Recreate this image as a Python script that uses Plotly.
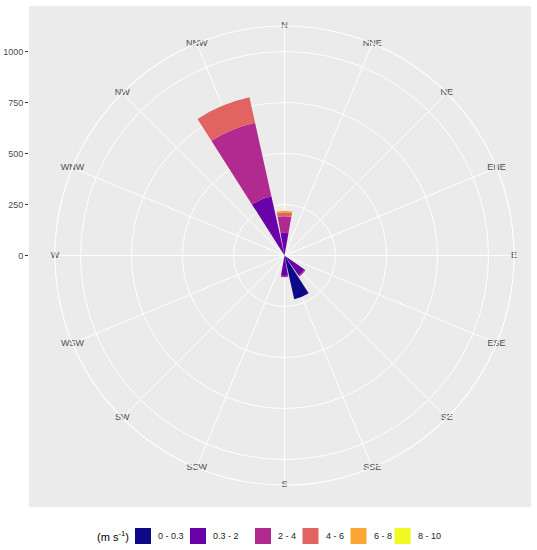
import plotly.graph_objects as go

# ---- data ----
directions = ["N", "NNE", "NE", "ENE", "E", "ESE", "SE", "SSE",
              "S", "SSW", "SW", "WSW", "W", "WNW", "NW", "NNW"]
dir_angles = [i * 22.5 for i in range(16)]
speed_bins = ["0 - 0.3", "0.3 - 2", "2 - 4", "4 - 6", "6 - 8", "8 - 10"]
bin_colors = ["#0D0887", "#6A00A8", "#B12A90", "#E16462", "#FCA636", "#F0F921"]

#            N    NNE NE ENE E ESE SE   SSE  S    SSW SW WSW W WNW NW NNW
v_0_03   = [0,   0,  0, 0,  0, 0,  0,   220, 0,   0,  0, 0,  0, 0,  0, 0]
v_03_2   = [111, 0,  0, 0,  0, 0,  120, 0,   100, 0,  0, 0,  0, 0,  0, 297]
v_2_4    = [81,  0,  0, 0,  0, 0,  6,   0,   6,   0,  0, 0,  0, 0,  0, 370]
v_4_6    = [20,  0,  0, 0,  0, 0,  0,   0,   0,   0,  0, 0,  0, 0,  0, 127]
v_6_8    = [7,   0,  0, 0,  0, 0,  0,   0,   0,   0,  0, 0,  0, 0,  0, 0]
v_8_10   = [0,   0,  0, 0,  0, 0,  0,   0,   0,   0,  0, 0,  0, 0,  0, 0]
series = [v_0_03, v_03_2, v_2_4, v_4_6, v_6_8, v_8_10]

r_ticks = [0, 250, 500, 750, 1000]
r_max = 1125  # outer ring (ggplot's 0.45 vs 0.40 of data range)
legend_title = "(m s<sup>-1</sup>)"

W, H = 537, 550
TXT = "#4D4D4D"
FONT = "Liberation Sans, Arial, sans-serif"

px = lambda x: x / W
py = lambda y: 1 - y / H

fig = go.Figure()
for name, vals, col in zip(speed_bins, series, bin_colors):
    fig.add_trace(go.Barpolar(
        r=vals, theta=dir_angles, name=name, width=20,
        marker=dict(color=col, line=dict(width=0)), showlegend=False,
    ))

# direction labels centred on the outer ring
fig.add_trace(go.Scatterpolar(
    r=[r_max] * len(directions), theta=dir_angles, mode="text",
    text=directions, textposition="middle center",
    textfont=dict(size=9, color=TXT, family=FONT),
    cliponaxis=False, showlegend=False, hoverinfo="skip",
))

# invisible cartesian trace to carry the radial scale on the left
fig.add_trace(go.Scatter(x=[0], y=[0], mode="markers", marker=dict(opacity=0),
                         showlegend=False, hoverinfo="skip"))

pol_x = [px(55), px(514)]
pol_y = [py(485), py(26)]

# ---- legend (ggplot-style key boxes) ----
key_x = [135, 190, 255, 302.5, 350.5, 394.5]   # left edge of each key box (px)
key_w, key_y0, key_y1 = 16, 528, 544
shapes = [dict(type="rect", xref="paper", yref="paper",
               x0=px(29), x1=px(531), y0=py(507), y1=py(6),
               fillcolor="#EBEBEB", line=dict(width=0), layer="below")]
annotations = [dict(text=legend_title, xref="paper", yref="paper",
                    x=px(95), y=py(536), xanchor="left", yanchor="middle",
                    showarrow=False, font=dict(size=11, color="black", family=FONT))]
for kx, name, col in zip(key_x, speed_bins, bin_colors):
    shapes.append(dict(type="rect", xref="paper", yref="paper",
                       x0=px(kx), x1=px(kx + key_w), y0=py(key_y1), y1=py(key_y0),
                       fillcolor=col, line=dict(width=0)))
    annotations.append(dict(text=name, xref="paper", yref="paper",
                            x=px(kx + key_w + 5), y=py(536), xanchor="left",
                            yanchor="middle", showarrow=False,
                            font=dict(size=9, color="#222222", family=FONT)))

fig.update_layout(
    width=W, height=H,
    margin=dict(l=0, r=0, t=0, b=0, autoexpand=False),
    paper_bgcolor="white",
    font=dict(family=FONT, size=9, color=TXT),
    polar=dict(
        domain=dict(x=pol_x, y=pol_y),
        bgcolor="#EBEBEB",
        barmode="stack",
        radialaxis=dict(range=[0, r_max], tickvals=r_ticks[1:],
                        showticklabels=False, ticks="", showline=False,
                        gridcolor="white", gridwidth=1.1),
        angularaxis=dict(rotation=90, direction="clockwise",
                         tickvals=dir_angles, showticklabels=False, ticks="",
                         gridcolor="white", gridwidth=1.1,
                         showline=True, linecolor="white", linewidth=1.1),
    ),
    xaxis=dict(domain=[px(29), px(531)], range=[-1, 1], visible=False,
               automargin=False),
    yaxis=dict(domain=pol_y, range=[-r_max, r_max], tickvals=r_ticks,
               ticks="outside", ticklen=3, tickcolor="#333333", tickwidth=1,
               showgrid=False, zeroline=False, showline=False, automargin=False,
               tickfont=dict(size=9, color=TXT, family=FONT)),
    shapes=shapes,
    annotations=annotations,
    showlegend=False,
)

fig.write_html("out.html", config={"displayModeBar": False},
               post_script="document.body.style.margin='0px';document.body.style.overflow='hidden';")
